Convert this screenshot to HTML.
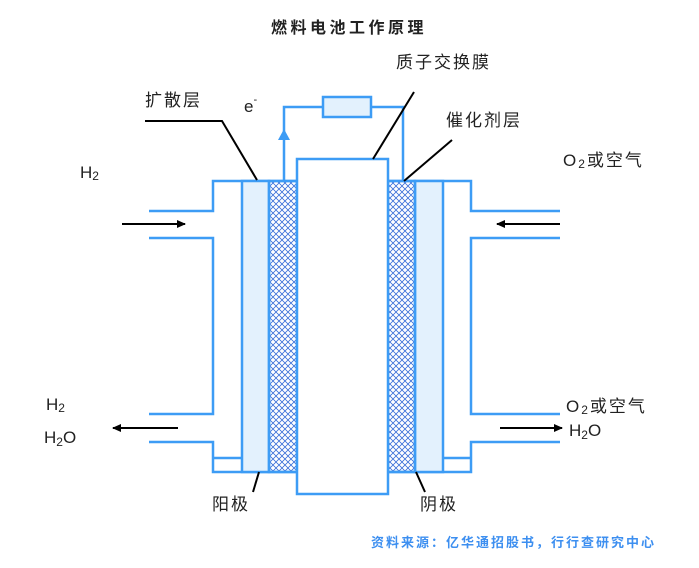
<!DOCTYPE html>
<html><head><meta charset="utf-8"><style>
html,body{margin:0;padding:0;background:#fff;}
svg{display:block;}
text{font-family:"Liberation Sans","Noto Sans CJK SC",sans-serif;fill:#222;}
.l{letter-spacing:2px;}
</style></head><body>
<svg width="699" height="568" viewBox="0 0 699 568" xmlns="http://www.w3.org/2000/svg">
<defs>
<pattern id="h" width="6" height="6" patternUnits="userSpaceOnUse">
<path d="M0,0 L6,6 M6,0 L0,6" stroke="#3a6fd8" stroke-width="0.8" fill="none"/>
</pattern>
<marker id="ab" markerWidth="10" markerHeight="10" refX="8" refY="4" orient="auto" markerUnits="userSpaceOnUse"><path d="M0,0 L9,4 L0,8 z" fill="#000"/></marker>
</defs>
<text x="349" y="33" font-size="16" font-weight="bold" text-anchor="middle" fill="#111" style="letter-spacing:3.5px">燃料电池工作原理</text>
<g stroke="#3d9cf5" stroke-width="2.5" fill="none">
<path d="M149,211 H213 V181 H297"/>
<path d="M149,238 H213 V414 H149"/>
<path d="M149,442 H213 V472 H297"/>
<path d="M213,458 H242"/>
<path d="M560,211 H471 V181 H388"/>
<path d="M560,238 H471 V414 H560"/>
<path d="M560,442 H471 V472 H388"/>
<path d="M443,458 H471"/>
<rect x="242" y="181" width="27" height="291" fill="#e3f1fd"/>
<rect x="269" y="181" width="28" height="291" fill="url(#h)"/>
<rect x="415" y="181" width="28" height="291" fill="#e3f1fd"/>
<rect x="388" y="181" width="27" height="291" fill="url(#h)"/>
<rect x="297" y="159" width="91" height="335" fill="#fff"/>
<path d="M284,181 V107 H403 V181"/>
<rect x="323" y="97" width="48" height="20" fill="#e3f1fd"/>
</g>
<path d="M278,140 L284,129 L290,140 z" fill="#3d9cf5"/>
<g stroke="#000" stroke-width="2" fill="none">
<path d="M145,121 H222 L257,180"/>
<path d="M373,159 L414,92"/>
<path d="M404,181 L452,140"/>
<path d="M259,472 L253,492"/>
<path d="M416,472 L425,492"/>
<path d="M122,224 H185" marker-end="url(#ab)"/>
<path d="M560,224 H497" marker-end="url(#ab)"/>
<path d="M178,428 H113" marker-end="url(#ab)"/>
<path d="M500,428 H562" marker-end="url(#ab)"/>
</g>
<g font-size="17">
<text class="l" x="145" y="106">扩散层</text>
<text x="244" y="112">e<tspan font-size="11" dy="-9">-</tspan></text>
<text class="l" x="396" y="68">质子交换膜</text>
<text class="l" x="446" y="126">催化剂层</text>
<text x="80" y="178">H<tspan font-size="12" dy="2">2</tspan></text>
<text class="l" x="563" y="166">O<tspan font-size="12" dy="2">2</tspan><tspan dy="-2">或空气</tspan></text>
<text x="46" y="410">H<tspan font-size="12" dy="2">2</tspan></text>
<text x="44" y="443">H<tspan font-size="12" dy="3">2</tspan><tspan dy="-3">O</tspan></text>
<text class="l" x="566" y="412">O<tspan font-size="12" dy="2">2</tspan><tspan dy="-2">或空气</tspan></text>
<text x="569" y="436">H<tspan font-size="12" dy="3">2</tspan><tspan dy="-3">O</tspan></text>
<text class="l" x="212" y="510">阳极</text>
<text class="l" x="420" y="510">阴极</text>
</g>
<text x="371" y="547" font-size="13" font-weight="bold" style="fill:#3d8ff0;letter-spacing:2px">资料来源：亿华通招股书，行行查研究中心</text>
</svg>
</body></html>
